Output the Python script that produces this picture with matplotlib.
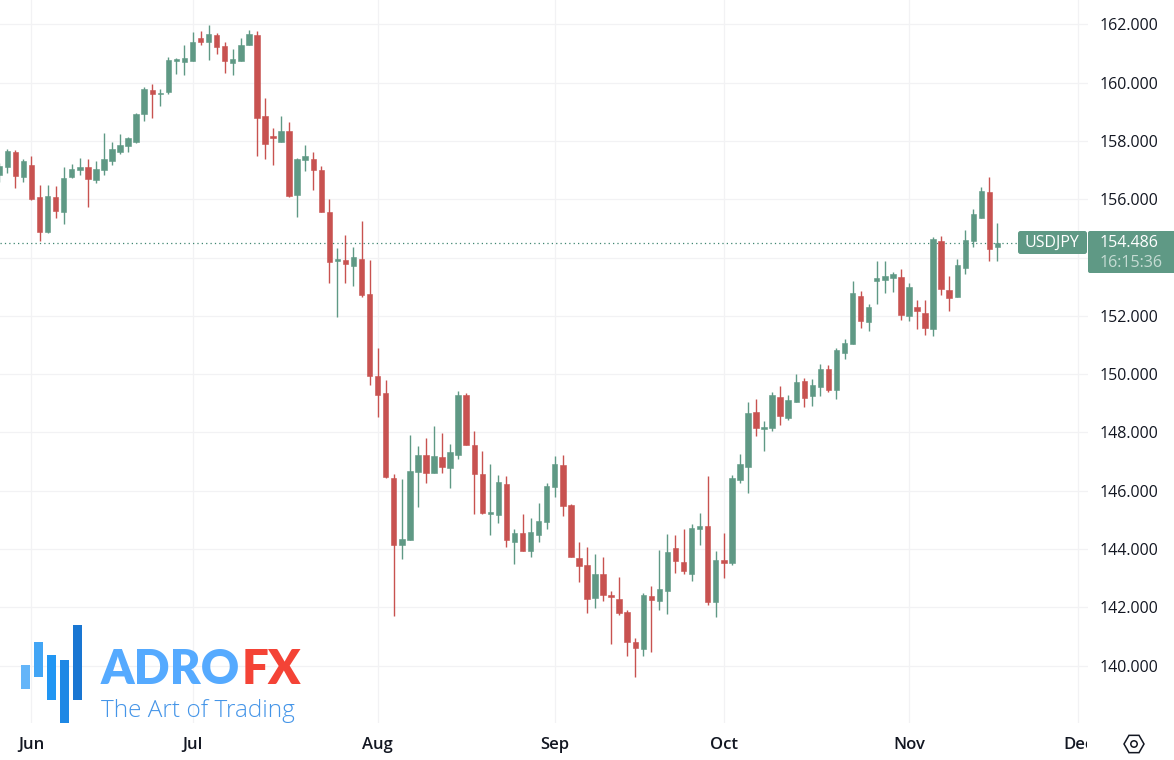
import matplotlib
matplotlib.use("Agg")
import matplotlib.pyplot as plt
from matplotlib.patches import Rectangle, FancyBboxPatch, RegularPolygon, Circle
from matplotlib.transforms import Bbox, IdentityTransform, TransformedBbox

opens = [156.85,157.12,157.64,156.78,157.18,156.07,154.89,156.07,155.58,156.75,156.99,157.11,156.67,156.99,157.33,157.64,157.84,157.97,158.94,159.75,159.61,159.67,160.75,160.72,160.76,161.55,161.41,161.63,161.26,160.69,160.76,161.28,161.64,158.85,158.14,157.98,158.35,156.15,157.35,157.40,156.99,155.57,
 153.90,153.92,153.71,153.94,152.75,149.94,149.35,146.44,144.14,144.32,146.65,147.24,146.62,147.16,146.79,147.24,149.29,147.57,146.58,145.21,145.18,146.24,144.25,144.54,143.94,144.49,144.94,146.14,146.87,145.52,143.68,143.44,142.33,143.14,
 142.41,142.28,141.85,140.79,140.58,142.39,142.23,142.57,144.03,143.55,143.14,144.70,144.79,142.18,143.63,143.52,146.38,146.81,148.71,148.12,
 148.16,149.20,148.51,149.06,149.76,149.26,149.57,150.17,149.46,150.74,151.02,152.68,151.80,153.21,153.24,153.31,153.32,152.00,152.29,152.09,151.56,154.56,152.88,152.65,153.65,154.57,155.35,156.24,154.38]
highs = [157.24,157.72,157.70,157.39,157.49,156.49,156.49,156.46,157.10,157.21,157.41,157.39,157.32,158.27,157.97,158.23,158.15,158.95,159.85,159.95,159.77,160.89,160.85,161.30,161.73,161.77,161.97,161.70,161.39,161.15,161.53,161.81,161.77,159.47,158.44,158.86,158.65,157.42,157.88,157.63,157.13,156.00,
 154.32,154.76,154.36,155.25,153.92,150.91,149.79,146.57,146.39,147.90,147.55,147.82,148.22,147.97,147.59,149.41,149.34,148.06,147.35,146.91,146.53,146.49,144.68,145.19,145.05,145.57,146.25,147.18,147.22,145.56,144.23,144.06,143.81,143.72,
 142.56,143.05,141.91,140.93,142.48,142.72,143.95,144.50,144.48,144.70,144.86,145.22,146.51,143.92,144.54,146.54,147.25,149.03,149.15,148.38,
 149.38,149.61,149.29,149.99,149.86,149.83,150.34,150.30,150.89,151.20,153.21,152.85,152.40,153.87,153.87,153.50,153.62,153.12,152.56,152.56,154.70,154.73,153.38,153.95,154.95,155.66,156.42,156.77,155.18]
lows = [156.61,156.92,156.40,156.59,155.99,154.58,154.83,155.37,155.17,156.73,156.83,155.75,156.57,156.83,157.18,157.56,157.64,157.95,158.70,158.78,159.21,159.63,160.30,160.28,160.76,161.30,160.78,160.98,160.35,160.28,160.76,161.28,157.47,157.40,157.18,157.98,156.09,155.41,156.96,156.31,155.55,153.12,
 151.97,153.14,153.04,152.66,149.64,148.54,146.45,141.71,143.65,144.32,145.45,146.28,146.62,146.62,146.09,147.09,147.58,145.21,145.21,144.47,144.88,144.08,143.47,143.94,143.71,144.25,144.70,145.80,145.14,143.73,142.88,141.79,141.99,142.23,
 140.74,141.75,140.31,139.62,140.34,140.45,141.91,141.76,143.19,143.14,142.91,144.13,142.09,141.67,142.99,143.46,146.25,145.93,147.88,147.37,
 148.06,148.26,148.44,149.06,148.87,148.90,149.26,149.40,149.13,150.51,151.02,151.57,151.48,152.42,152.80,152.81,151.86,151.81,151.55,151.35,151.32,152.72,152.15,152.65,153.44,154.35,155.35,153.90,153.87]
closes = [157.15,157.67,156.81,157.31,156.01,154.89,156.12,155.60,156.73,157.04,157.10,156.71,157.04,157.38,157.73,157.86,158.11,158.93,159.79,159.61,159.66,160.78,160.78,160.84,161.40,161.41,161.68,161.24,160.75,160.81,161.30,161.68,158.80,157.89,158.12,158.35,156.13,157.39,157.49,157.01,155.55,153.86,
 153.94,153.79,154.02,152.72,149.95,149.30,146.48,144.14,144.33,146.68,147.24,146.60,147.18,146.81,147.33,149.27,147.58,146.58,145.25,145.26,146.29,144.32,144.54,143.94,144.57,144.95,146.16,146.91,145.46,143.73,143.43,142.27,143.14,142.43,
 142.36,141.80,140.82,140.60,142.43,142.26,142.62,143.89,143.59,143.26,144.72,144.79,142.18,143.61,143.53,146.44,146.92,148.67,148.14,148.18,
 149.30,148.56,149.10,149.73,149.19,149.63,150.18,149.46,150.83,151.08,152.77,151.84,152.32,153.29,153.36,153.43,152.03,152.99,152.15,151.60,154.63,152.93,152.63,153.73,154.60,155.48,156.29,154.31,154.49]
month_labels = ["Jun", "Jul", "Aug", "Sep", "Oct", "Nov", "Dec"]
month_positions = [4, 24, 47, 69, 90, 113, 134]
price_ticks = [140, 142, 144, 146, 148, 150, 152, 154, 156, 158, 160, 162]
hidden_price_label = 154
last_price = 154.486

UP = "#5f9985"
DOWN = "#c85250"
GRID = "#f2f2f4"
TXT = "#131722"
W, H = 1174, 760
AX_RIGHT, AX_BOTTOM = 1088, 723

fig = plt.figure(figsize=(W / 100, H / 100), dpi=100, facecolor="white")
ax = fig.add_axes([0, 1 - AX_BOTTOM / H, AX_RIGHT / W, AX_BOTTOM / H])
px_per_unit = 29.14
ax.set_ylim(140 - (AX_BOTTOM - 665.5) / px_per_unit, 162 + 24.5 / px_per_unit)
ax.set_xlim(0.7 / 8.05, (AX_RIGHT + 0.7) / 8.05)
for s in ax.spines.values():
    s.set_visible(False)
ax.set_axisbelow(True)
ax.grid(True, color=GRID, lw=0.9, zorder=0)
ax.set_yticks(price_ticks)
ax.set_yticklabels(["" if p == hidden_price_label else f"{p:.3f}" for p in price_ticks])
ax.yaxis.tick_right()
ax.set_xticks(month_positions)
ax.set_xticklabels(month_labels)
ax.tick_params(axis="both", length=0, labelcolor=TXT)
ax.tick_params(axis="y", pad=8, labelsize=11.5)
ax.tick_params(axis="x", pad=10, labelsize=12)
for lab in ax.get_yticklabels():
    lab.set_family("Open Sans")
    lab.set_clip_on(False)
clip_box = TransformedBbox(Bbox([[0, 0], [1087, H]]), IdentityTransform())
for lab in ax.get_xticklabels():
    lab.set_family("Open Sans")
    lab.set_fontweight("semibold")
    lab.set_clip_on(True)
    lab.set_clip_box(clip_box)

for i, (o, h, l, c) in enumerate(zip(opens, highs, lows, closes)):
    col = UP if c >= o else DOWN
    ax.vlines(i, l, h, color=col, lw=1.0, zorder=3)
    ax.add_patch(Rectangle((i - 0.34, min(o, c)), 0.68, max(abs(c - o), 0.05), facecolor=col, edgecolor=col, lw=0.4, zorder=4))

ax.plot(ax.get_xlim(), [last_price + 0.02] * 2, color="#3f8570", lw=0.9, ls=(0, (1, 2.5)), zorder=2)

# pixel-space overlay for labels and logo
ov = fig.add_axes([0, 0, 1, 1], facecolor="none")
ov.set_xlim(0, W); ov.set_ylim(H, 0); ov.axis("off")
ov.add_patch(FancyBboxPatch((1018, 231), 69, 23, boxstyle="round,pad=0,rounding_size=2.5", fc=UP, ec="none"))
ov.add_patch(FancyBboxPatch((1088, 231), 90, 42, boxstyle="round,pad=0,rounding_size=2", fc=UP, ec="none"))
ov.text(1025, 243, "USDJPY", color="white", ha="left", va="center", fontsize=11.5, family="Open Sans", fontweight="medium")
ov.text(1100, 243, "154.486", color="white", ha="left", va="center", fontsize=11.5, family="Open Sans", fontweight="medium")
ov.text(1100, 263, "16:15:36", color="#c6dcd4", ha="left", va="center", fontsize=11.5, family="Open Sans")

logo_bars = [(21, 665, 9, 24, "#64b5f9"), (34, 642, 9, 35, "#42a5f5"), (47, 655, 9, 45, "#2196f3"), (60, 660, 9, 63, "#1e88e5"), (73, 625, 9, 75, "#1976d2")]
for x, y, w, h, col in logo_bars:
    ov.add_patch(Rectangle((x, y), w, h, fc=col, ec="none"))
ov.text(101, 670.5, "ADRO", color="#55aaff", fontsize=34, family="Lato", fontweight="heavy", va="center", ha="left")
ov.text(242, 670.5, "FX", color="#f44336", fontsize=34, family="Lato", fontweight="heavy", va="center", ha="left")
ov.text(101, 711, "The Art of Trading", color="#4595e8", fontsize=17.6, family="Open Sans", fontweight="light", va="center", ha="left")

# settings icon
ov.add_patch(RegularPolygon((1134, 744), 6, radius=10, orientation=0.5236, fc="none", ec=TXT, lw=1.1))
ov.add_patch(Circle((1134, 744), 3.2, fc="none", ec=TXT, lw=1.1))

fig.savefig("out.png", dpi=100, facecolor="white")
